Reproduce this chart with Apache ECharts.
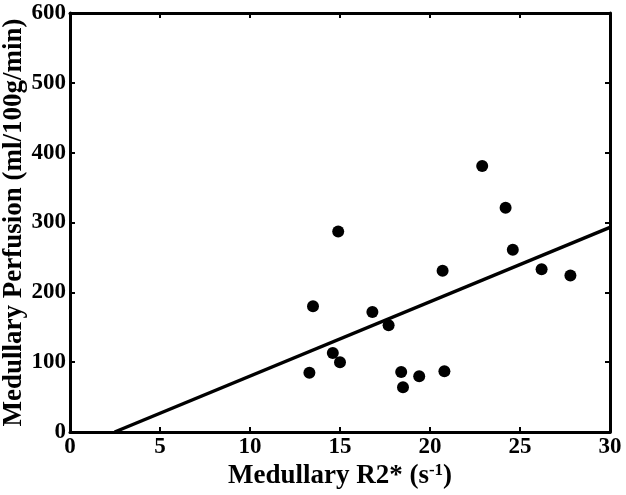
<!DOCTYPE html>
<html>
<head>
<meta charset="utf-8">
<script src="https://cdn.jsdelivr.net/npm/echarts@6/dist/echarts.min.js"></script>
<style>
  html, body { margin: 0; padding: 0; background: #fff; }
  #chart { width: 626px; height: 495px; }
</style>
</head>
<body>
<div id="chart"></div>
<script>
// measured points (R2*, perfusion)
var r2Values = [13.3, 13.5, 14.6, 14.9, 15.0, 16.8, 17.7, 18.4, 18.5, 19.4, 20.7, 20.8, 22.9, 24.2, 24.6, 26.2, 27.8];
var perfusionValues = [85, 180, 113, 287, 100, 172, 153, 86, 64, 80, 231, 87, 381, 321, 261, 233, 224];
// regression line end points
var fitX = [2.48, 30];
var fitY = [0, 293];

var font = '"Liberation Serif", "Times New Roman", serif';

var points = r2Values.map(function(x, i) { return [x, perfusionValues[i]] });
var fitLine = fitX.map(function(x, i) { return [x, fitY[i]] });

function axisLine() {
  return { show: true, onZero: false, lineStyle: { color: '#000', width: 3 } };
}
function axisTick() {
  return { show: true, inside: true, length: 5, lineStyle: { color: '#000', width: 2 } };
}
function tickLabel(margin) {
  return { show: true, margin: margin, color: '#000', fontFamily: font, fontWeight: 'bold', fontSize: 23 };
}

var chart = echarts.init(document.getElementById('chart'));
chart.setOption({
  animation: false,
  grid: { left: 70, right: 16, top: 13, bottom: 63, outerBoundsMode: 'none', containLabel: false },
  xAxis: [
    {
      type: 'value', min: 0, max: 30, interval: 5,
      axisLine: axisLine(), axisTick: axisTick(),
      axisLabel: tickLabel(4),
      splitLine: { show: false },
      name: '{a|Medullary R2* (s}{b|-1}{a|)}',
      nameLocation: 'middle', nameGap: 30, nameMoveOverlap: false,
      nameTextStyle: {
        rich: {
          a: { fontFamily: font, fontWeight: 'bold', fontSize: 27, color: '#000' },
          b: { fontFamily: font, fontWeight: 'bold', fontSize: 17, color: '#000', verticalAlign: 'top', padding: [0, 0, 12, 0] }
        }
      }
    },
    {
      type: 'value', position: 'top', min: 0, max: 30, interval: 5,
      axisLine: axisLine(), axisTick: axisTick(),
      axisLabel: { show: false }, splitLine: { show: false }
    }
  ],
  yAxis: [
    {
      type: 'value', min: 0, max: 600, interval: 100,
      axisLine: axisLine(), axisTick: axisTick(),
      axisLabel: tickLabel(4),
      splitLine: { show: false },
      name: 'Medullary Perfusion (ml/100g/min)',
      nameLocation: 'middle', nameGap: 42, nameMoveOverlap: false,
      nameTextStyle: { fontFamily: font, fontWeight: 'bold', fontSize: 27, color: '#000' }
    },
    {
      type: 'value', position: 'right', min: 0, max: 600, interval: 100,
      axisLine: axisLine(), axisTick: axisTick(),
      axisLabel: { show: false }, splitLine: { show: false }
    }
  ],
  series: [
    {
      type: 'line', data: fitLine, showSymbol: false,
      lineStyle: { color: '#000', width: 3.5 }
    },
    {
      type: 'scatter', data: points, symbolSize: 12,
      itemStyle: { color: '#000', opacity: 1 }
    }
  ]
});
</script>
</body>
</html>
